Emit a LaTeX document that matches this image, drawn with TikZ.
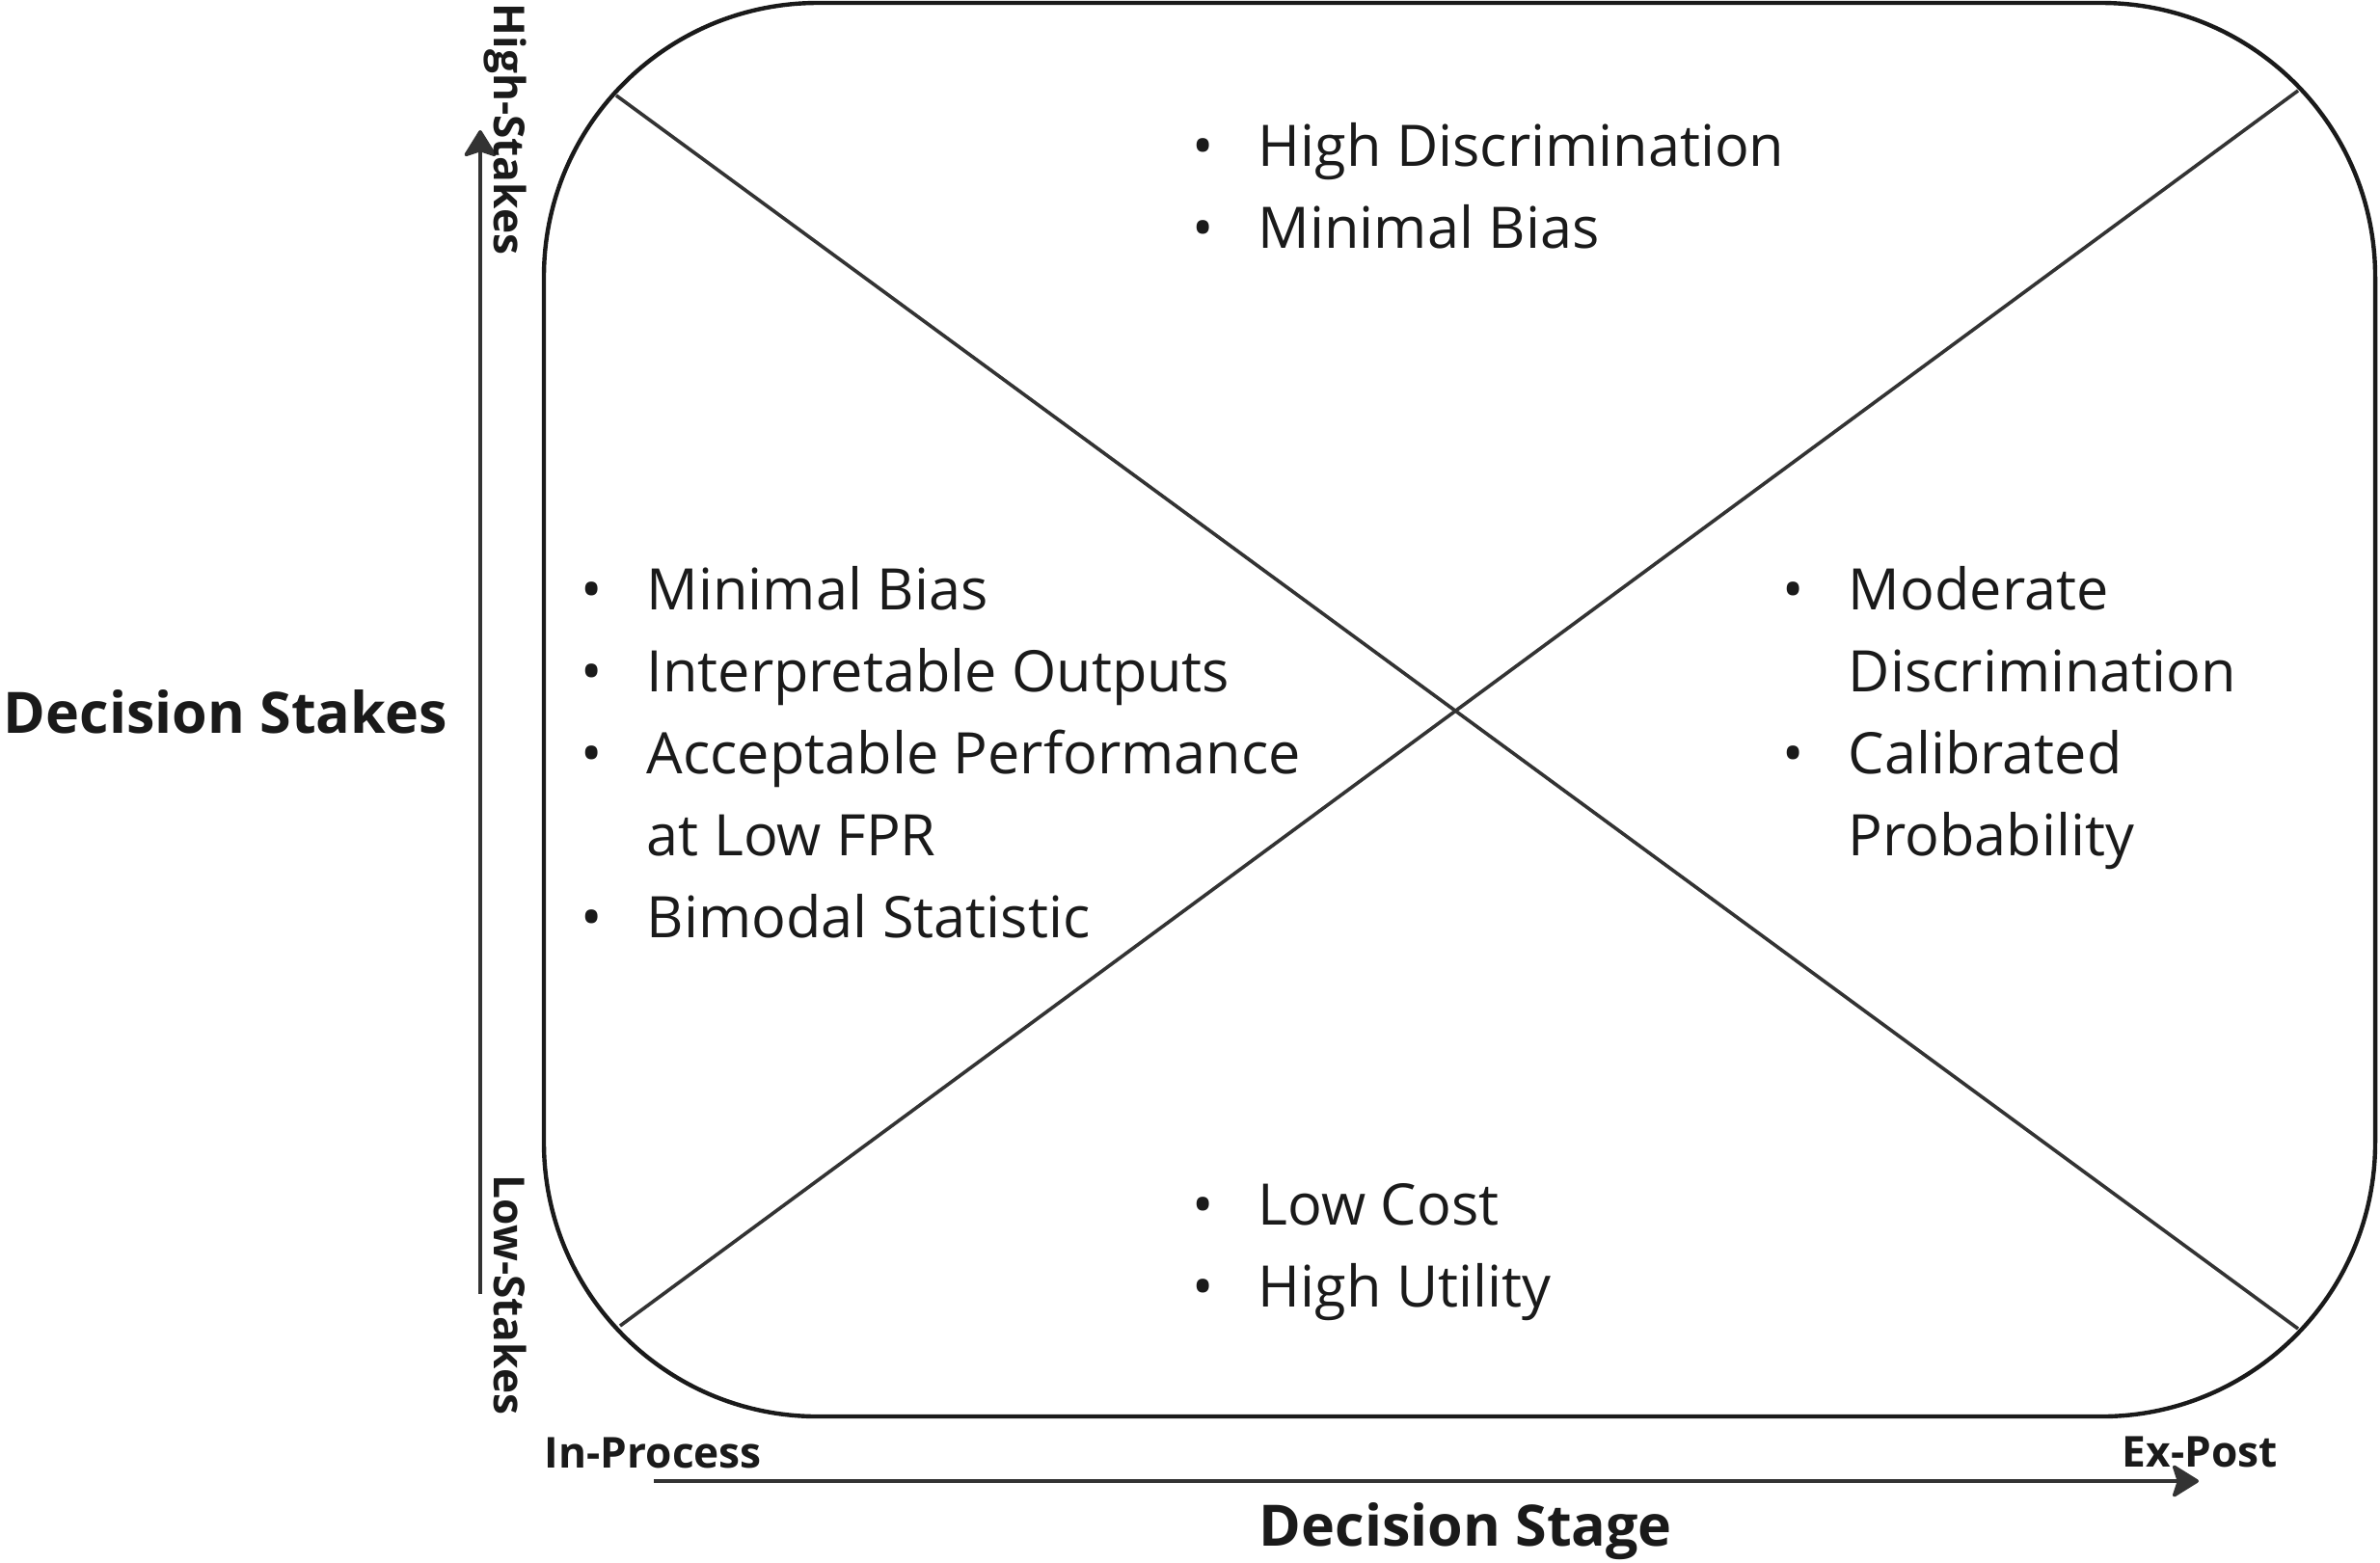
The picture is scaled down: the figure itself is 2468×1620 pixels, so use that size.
\documentclass[tikz,border=0pt]{standalone}
\usepackage{fontspec}
\setmainfont{Open Sans}
\usetikzlibrary{arrows.meta}
\definecolor{ink}{HTML}{1A1A1A}
\definecolor{lin}{HTML}{333333}
\newcommand{\itm}{\llap{\makebox[28.75pt][c]{\textbullet}}}
\begin{document}
\begin{tikzpicture}[x=0.25pt,y=-0.25pt,
  body/.style={font=\fontsize{14.85pt}{21.25pt}\selectfont, text=ink, inner sep=0pt, anchor=base west},
  axislbl/.style={font=\bfseries\fontsize{11.05pt}{14pt}\selectfont, text=ink, inner sep=0pt, anchor=base west},
  axistitle/.style={font=\bfseries\fontsize{14.8pt}{20pt}\selectfont, text=ink, inner sep=0pt, anchor=base west},
  quadframe/.style={draw=ink, line width=1.1pt, rounded corners=71pt},
  diag/.style={draw=lin, line width=0.9pt},
  axisarrow/.style={draw=lin, line width=0.9pt, -{Stealth[length=7.5pt,width=9.25pt,inset=1.5pt,round]}}
]
\useasboundingbox (0,0) rectangle (2468,1620);
% frame
\draw[quadframe] (564,3) rectangle (2463,1469);
% diagonals
\coordinate (tl) at (639,99);
\coordinate (br) at (2383,1378);
\coordinate (bl) at (643,1375);
\coordinate (tr) at (2383,94);
\draw[diag] (tl) -- (br);
\draw[diag] (bl) -- (tr);
% axes
\coordinate (vs) at (498,1342);
\coordinate (ve) at (498,135);
\draw[axisarrow] (vs) -- (ve);
\coordinate (hs) at (678,1536);
\coordinate (he) at (2280,1536);
\draw[axisarrow] (hs) -- (he);
% axis labels
\node[axislbl, rotate=-90] (hi) at (512,3) {High-Stakes};
\node[axislbl, rotate=-90] (lo) at (512,1218) {Low-Stakes};
\node[axislbl] (inp) at (564,1522) {In-Process};
\node[axislbl] (exp) at (2200,1521) {Ex-Post};
\node[axistitle] (dst) at (3,760) {Decision Stakes};
\node[axistitle] (dsg) at (1305,1603) {Decision Stage};
% quadrant texts
\node[body] (qt) at (1304,172) {\begin{tabular}[t]{@{}l@{}}\itm High Discrimination\\\itm Minimal Bias\end{tabular}};
\node[body] (ql) at (670,632) {\begin{tabular}[t]{@{}l@{}}\itm Minimal Bias\\\itm Interpretable Outputs\\\itm Acceptable Performance\\at Low FPR\\\itm Bimodal Statistic\end{tabular}};
\node[body] (qr) at (1916,632) {\begin{tabular}[t]{@{}l@{}}\itm Moderate\\Discrimination\\\itm Calibrated\\Probability\end{tabular}};
\node[body] (qb) at (1304,1270) {\begin{tabular}[t]{@{}l@{}}\itm Low Cost\\\itm High Utility\end{tabular}};
\end{tikzpicture}
\end{document}
